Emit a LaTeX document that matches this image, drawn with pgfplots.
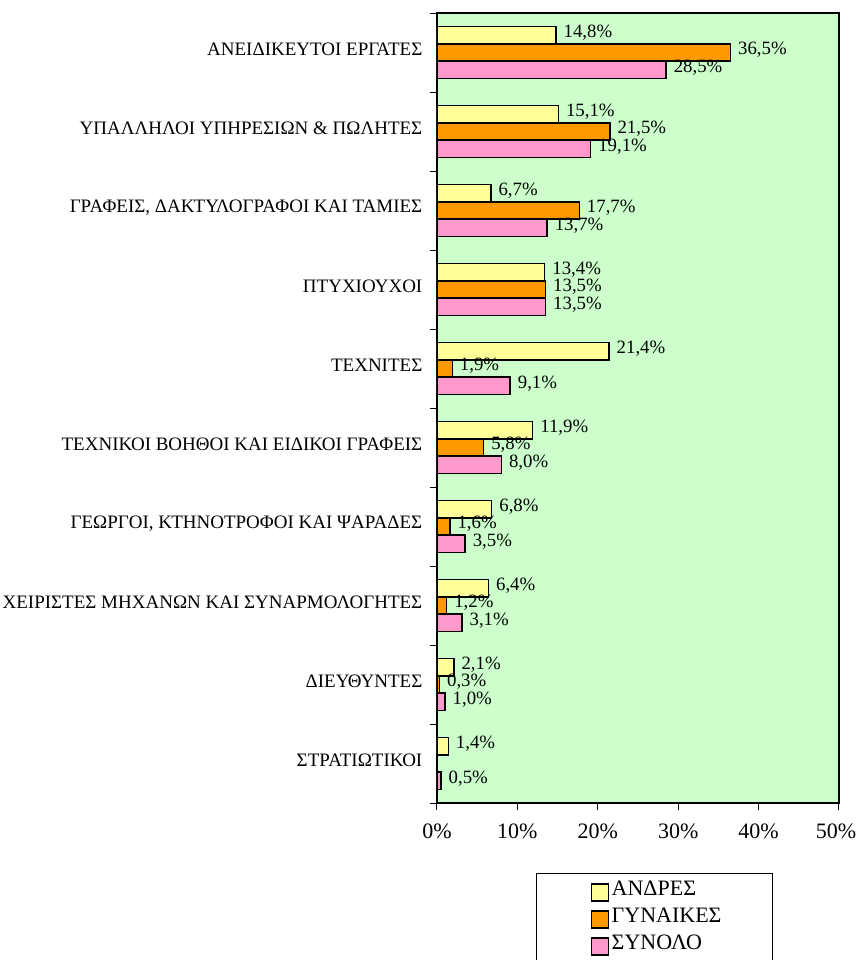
\documentclass[border=0pt]{standalone}
\usepackage{fontspec}
\setmainfont{Liberation Serif}
\usepackage{pgfplots}
\pgfplotsset{compat=1.18}
\definecolor{bggreen}{HTML}{CCFFCC}
\definecolor{cyel}{HTML}{FFFF99}
\definecolor{corg}{HTML}{FF9900}
\definecolor{cpnk}{HTML}{FF99CC}
\begin{document}
\begin{tikzpicture}
\useasboundingbox (-218.5pt,-78.5pt) rectangle (213pt,401.5pt);
\begin{axis}[
  scale only axis,
  width=201pt, height=395pt,
  xbar=0pt,
  bar width=8.6pt,
  y dir=reverse,
  xmin=0, xmax=50,
  ymin=-0.5, ymax=9.5,
  xtick={0,10,20,30,40,50},
  xticklabels={0\%,10\%,20\%,30\%,40\%,50\%\hspace*{3pt}},
  ytick={0,...,9},
  yticklabels={ΑΝΕΙΔΙΚΕΥΤΟΙ ΕΡΓΑΤΕΣ,ΥΠΑΛΛΗΛΟΙ ΥΠΗΡΕΣΙΩΝ \& ΠΩΛΗΤΕΣ,{ΓΡΑΦΕΙΣ, ΔΑΚΤΥΛΟΓΡΑΦΟΙ ΚΑΙ ΤΑΜΙΕΣ},ΠΤΥΧΙΟΥΧΟΙ,ΤΕΧΝΙΤΕΣ,ΤΕΧΝΙΚΟΙ ΒΟΗΘΟΙ ΚΑΙ ΕΙΔΙΚΟΙ ΓΡΑΦΕΙΣ,{ΓΕΩΡΓΟΙ, ΚΤΗΝΟΤΡΟΦΟΙ ΚΑΙ ΨΑΡΑΔΕΣ},ΧΕΙΡΙΣΤΕΣ ΜΗΧΑΝΩΝ ΚΑΙ ΣΥΝΑΡΜΟΛΟΓΗΤΕΣ,ΔΙΕΥΘΥΝΤΕΣ,ΣΤΡΑΤΙΩΤΙΚΟΙ},
  minor ytick={-0.5,0.5,...,9.5},
  major y tick style={draw=none},
  minor y tick style={black, line width=0.5pt},
  major x tick style={black, line width=0.5pt},
  tick align=outside,
  major tick length=3.5pt,
  minor tick length=3.5pt,
  xtick pos=bottom, ytick pos=left,
  axis line style={black, line width=0.6pt},
  axis background/.style={fill=bggreen},
  yticklabel style={font=\fontsize{9.5}{10}\selectfont, xshift=-0.3pt, yshift=1.5pt},
  xticklabel style={font=\fontsize{11}{12}\selectfont, yshift=-3.5pt},
  nodes near coords={\pgfmathprintnumber[fixed,fixed zerofill,precision=1,use comma,assume math mode=true]{\pgfplotspointmeta}\%},
  every node near coord/.append style={font=\fontsize{9.4}{10}\selectfont, black, inner xsep=3.5pt, inner ysep=2pt, yshift=1.2pt},
  legend style={at={(0.541,-0.0886)}, anchor=north, draw=black, line width=0.4pt,
    font=\fontsize{11}{13.5}\selectfont, inner xsep=24pt, inner ysep=2pt, row sep=0pt, column sep=0pt,
    nodes={inner xsep=1.5pt, inner ysep=0pt, text height=9pt, text depth=4.5pt}},
  legend cell align=left,
  legend image code/.code={\path (0pt,0pt); \draw[#1, draw=black, line width=0.6pt] (3pt,-5pt) rectangle (11.5pt,3.5pt);},
]
\addplot[fill=cyel, draw=black, line width=0.7pt, bar shift=8.6pt] coordinates {
 (14.8,0) (15.1,1) (6.7,2) (13.4,3) (21.4,4) (11.9,5) (6.8,6) (6.4,7) (2.1,8) (1.4,9)};
\addplot[fill=corg, draw=black, line width=0.7pt, bar shift=0pt] coordinates {
 (36.5,0) (21.5,1) (17.7,2) (13.5,3) (1.9,4) (5.8,5) (1.6,6) (1.2,7) (0.3,8)};
\addplot[fill=cpnk, draw=black, line width=0.7pt, bar shift=-8.6pt] coordinates {
 (28.5,0) (19.1,1) (13.7,2) (13.5,3) (9.1,4) (8.0,5) (3.5,6) (3.1,7) (1.0,8) (0.5,9)};
\legend{ΑΝΔΡΕΣ,ΓΥΝΑΙΚΕΣ,ΣΥΝΟΛΟ}
\end{axis}
\end{tikzpicture}
\end{document}
